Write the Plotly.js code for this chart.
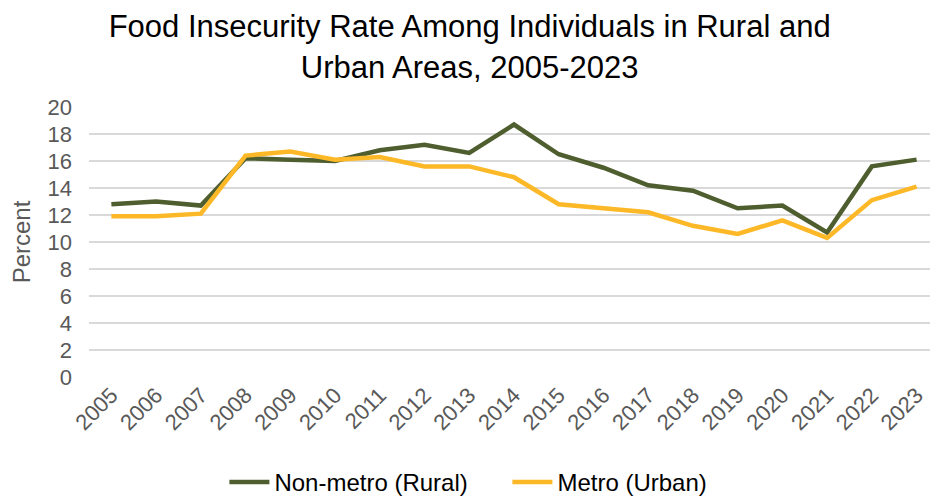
<!DOCTYPE html>
<html>
<head>
<meta charset="utf-8">
<script src="https://cdn.plot.ly/plotly-3.0.1.min.js"></script>
<style>html,body{margin:0;padding:0;background:#fff;}#chart{width:930px;height:498px;}</style>
</head>
<body>
<div id="chart"></div>
<script>
const years = ["2005","2006","2007","2008","2009","2010","2011","2012","2013","2014","2015","2016","2017","2018","2019","2020","2021","2022","2023"];
const nonMetro = [12.8,13.0,12.7,16.2,16.1,16.0,16.8,17.2,16.6,18.7,16.5,15.5,14.2,13.8,12.5,12.7,10.7,15.6,16.1];
const metro = [11.9,11.9,12.1,16.4,16.7,16.1,16.3,15.6,15.6,14.8,12.8,12.5,12.2,11.2,10.6,11.6,10.3,13.1,14.1];
const yTicks = [0,2,4,6,8,10,12,14,16,18,20];

const traces = [
  {x: years, y: nonMetro, type: "scatter", mode: "lines", name: "Non-metro (Rural)",
   line: {color: "#4F5E2F", width: 4.5}},
  {x: years, y: metro, type: "scatter", mode: "lines", name: "Metro (Urban)",
   line: {color: "#FDB827", width: 4.5}}
];

const layout = {
  width: 930, height: 498,
  margin: {l: 89, r: 0, t: 107, b: 121, autoexpand: false},
  paper_bgcolor: "#fff", plot_bgcolor: "#fff",
  font: {family: "Liberation Sans, Arial, sans-serif", color: "#595959", size: 22},
  title: {text: "Food Insecurity Rate Among Individuals in Rural and<br>Urban Areas, 2005-2023",
          font: {size: 31, color: "#000"}, x: 0.505, xanchor: "center",
          yref: "container", y: 0.925, yanchor: "bottom"},
  xaxis: {type: "category", range: [-0.5, 18.3], tickangle: -45, showgrid: false, automargin: false,
          showline: false, zeroline: false, ticks: "", tickfont: {size: 22, color: "#595959"}},
  yaxis: {range: [0, 20], tickvals: yTicks, showgrid: true, gridcolor: "#D9D9D9", gridwidth: 1.5,
          zeroline: false, showline: false, ticks: "", ticklabelstandoff: 16, automargin: false,
          tickfont: {size: 22, color: "#595959"},
          title: {text: "Percent", font: {size: 24, color: "#595959"}, standoff: 10}},
  showlegend: true,
  legend: {orientation: "h", x: 0.161, xanchor: "left", y: -0.39, yanchor: "middle",
           font: {size: 24, color: "#000"}, itemwidth: 40, entrywidth: 228, entrywidthmode: "pixels",
           traceorder: "normal"}
};

Plotly.newPlot("chart", traces, layout, {displayModeBar: false, staticPlot: true});
</script>
</body>
</html>
